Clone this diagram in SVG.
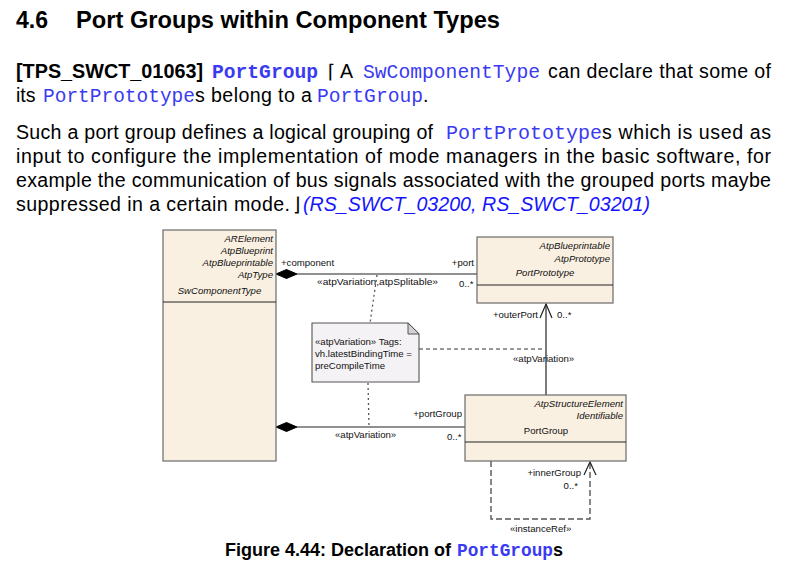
<svg xmlns="http://www.w3.org/2000/svg" width="792" height="574" viewBox="0 0 792 574">
<defs>
<style>
.t{font-family:"Liberation Sans",Arial,sans-serif;fill:#000}
.b{font-weight:bold}
.c{font-family:"Liberation Mono","Courier New",monospace;fill:#3a3af2}
.lnk{font-family:"Liberation Sans",Arial,sans-serif;fill:#1414ff;font-style:italic}
.sym{font-family:"DejaVu Sans","Liberation Sans",sans-serif;fill:#000}
.d{font-family:"Liberation Sans",Arial,sans-serif;font-size:9.6px;fill:#111}
.i{font-style:italic}
.box{fill:#faf0e2;stroke:#6a6a6a;stroke-width:1.2}
.div{stroke:#222;stroke-width:1}
.ln{stroke:#222;stroke-width:1.2;fill:none}
.dot{stroke:#555;stroke-width:1.3;stroke-dasharray:2 3;fill:none}
.dash{stroke:#333;stroke-width:1;stroke-dasharray:4 3;fill:none}
.dash2{stroke:#555;stroke-width:1.4;stroke-dasharray:6 3;fill:none}
.dia{fill:#000;stroke:#000;stroke-width:1}
</style>
</defs>
<rect x="0" y="0" width="792" height="574" fill="#fff"/>

<g id="text">
<text class="t b" x="16" y="28" font-size="23" textLength="32" lengthAdjust="spacingAndGlyphs">4.6</text>
<text class="t b" x="76" y="28" font-size="23" textLength="424" lengthAdjust="spacingAndGlyphs">Port Groups within Component Types</text>

<text class="t b" x="16" y="78" font-size="19.6" textLength="187" lengthAdjust="spacingAndGlyphs">[TPS_SWCT_01063]</text>
<text class="c b" x="212" y="78" font-size="19.6" textLength="106" lengthAdjust="spacingAndGlyphs">PortGroup</text>
<text class="sym" x="328" y="78" font-size="19">⌈</text>
<text class="t" x="340" y="78" font-size="19.6">A</text>
<text class="c" x="363" y="78" font-size="19.6" textLength="177" lengthAdjust="spacingAndGlyphs">SwComponentType</text>
<text class="t" x="548" y="78" font-size="19.6" textLength="223" lengthAdjust="spacing">can declare that some of</text>

<text class="t" x="16" y="102" font-size="19.6">its</text>
<text class="c" x="43" y="102" font-size="19.6" textLength="152" lengthAdjust="spacingAndGlyphs">PortPrototype</text>
<text class="t" x="195" y="102" font-size="19.6" textLength="117" lengthAdjust="spacing">s belong to a</text>
<text class="c" x="317" y="102" font-size="19.6" textLength="106" lengthAdjust="spacingAndGlyphs">PortGroup</text>
<text class="t" x="423" y="102" font-size="19.6">.</text>

<text class="t" x="16" y="139" font-size="19.6" textLength="417" lengthAdjust="spacing">Such a port group defines a logical grouping of</text>
<text class="c" x="446" y="139" font-size="19.6" textLength="156" lengthAdjust="spacingAndGlyphs">PortPrototype</text>
<text class="t" x="602" y="139" font-size="19.6" textLength="169" lengthAdjust="spacing">s which is used as</text>
<text class="t" x="16" y="163" font-size="19.6" textLength="755" lengthAdjust="spacing">input to configure the implementation of mode managers in the basic software, for</text>
<text class="t" x="16" y="187" font-size="19.6" textLength="755" lengthAdjust="spacing">example the communication of bus signals associated with the grouped ports maybe</text>
<text class="t" x="16" y="211" font-size="19.6" textLength="274" lengthAdjust="spacing">suppressed in a certain mode.</text>
<text class="sym" x="293" y="211" font-size="19">⌋</text>
<text class="lnk" x="303" y="211" font-size="19.6" textLength="347" lengthAdjust="spacing">(RS_SWCT_03200, RS_SWCT_03201)</text>
</g>

<g id="connectors">
<line class="ln" x1="297" y1="274" x2="477" y2="274"/>
<polygon class="dia" points="276,274 286.5,269.5 297,274 286.5,278.5"/>
<line class="ln" x1="297" y1="427" x2="465" y2="427"/>
<polygon class="dia" points="276,427 286.5,422.5 297,427 286.5,431.5"/>
<line class="ln" x1="546" y1="304" x2="546" y2="395"/>
<polyline class="ln" points="540,318 546,304 552,318"/>
<polyline class="dash2" points="491,461 491,519 590,519 590,462"/>
<polyline class="ln" points="584,475 590,462 596,475"/>
<polyline class="dot" points="377,275 370,323"/>
<line class="dot" x1="368" y1="383" x2="369" y2="427"/>
<line class="dash" x1="419" y1="349" x2="545" y2="349"/>
<text class="d" x="281" y="266">+component</text>
<text class="d" x="317" y="285" textLength="121" lengthAdjust="spacingAndGlyphs">«atpVariation,atpSplitable»</text>
<text class="d" x="474" y="266" text-anchor="end">+port</text>
<text class="d" x="459" y="287">0..*</text>
<text class="d" x="538" y="318" text-anchor="end">+outerPort</text>
<text class="d" x="557" y="318">0..*</text>
<text class="d" x="513" y="362">«atpVariation»</text>
<text class="d" x="462" y="417" text-anchor="end">+portGroup</text>
<text class="d" x="335" y="438">«atpVariation»</text>
<text class="d" x="447" y="440">0..*</text>
<text class="d" x="581" y="476" text-anchor="end">+innerGroup</text>
<text class="d" x="578" y="489" text-anchor="end">0..*</text>
<text class="d" x="510" y="532">«instanceRef»</text>
</g>

<g id="SwComponentType">
<rect class="box" x="163" y="230" width="113" height="231"/>
<line class="div" x1="163" y1="302" x2="276" y2="302"/>
<text class="d i" x="273" y="242" text-anchor="end">ARElement</text>
<text class="d i" x="273" y="254" text-anchor="end">AtpBlueprint</text>
<text class="d i" x="273" y="266" text-anchor="end">AtpBlueprintable</text>
<text class="d i" x="273" y="278" text-anchor="end">AtpType</text>
<text class="d i" x="219.5" y="294" text-anchor="middle">SwComponentType</text>
</g>

<g id="PortPrototype">
<rect class="box" x="477" y="237" width="136" height="66"/>
<line class="div" x1="477" y1="285" x2="613" y2="285"/>
<text class="d i" x="610" y="249" text-anchor="end">AtpBlueprintable</text>
<text class="d i" x="610" y="262" text-anchor="end">AtpPrototype</text>
<text class="d i" x="545" y="276" text-anchor="middle">PortPrototype</text>
</g>

<g id="PortGroup">
<rect class="box" x="465" y="395" width="161" height="66"/>
<line class="div" x1="465" y1="442" x2="626" y2="442"/>
<text class="d i" x="623" y="407" text-anchor="end">AtpStructureElement</text>
<text class="d i" x="623" y="419" text-anchor="end">Identifiable</text>
<text class="d" x="546" y="434" text-anchor="middle">PortGroup</text>
</g>

<g id="note">
<path d="M312,323 H408 L419,334 V382 H312 Z" fill="#f5f2f5" stroke="#555" stroke-width="1.1"/>
<path d="M408,323 V334 H419 Z" fill="#d2d2d2" stroke="#555" stroke-width="1"/>
<text class="d" x="315" y="345">«atpVariation» Tags:</text>
<text class="d" x="315" y="357">vh.latestBindingTime =</text>
<text class="d" x="315" y="369">preCompileTime</text>
</g>

<g id="caption">
<text class="t b" x="225" y="556" font-size="18" textLength="226" lengthAdjust="spacing">Figure 4.44: Declaration of</text>
<text class="c b" x="457" y="556" font-size="18" textLength="96" lengthAdjust="spacingAndGlyphs">PortGroup</text>
<text class="t b" x="553" y="556" font-size="18">s</text>
</g>
</svg>
